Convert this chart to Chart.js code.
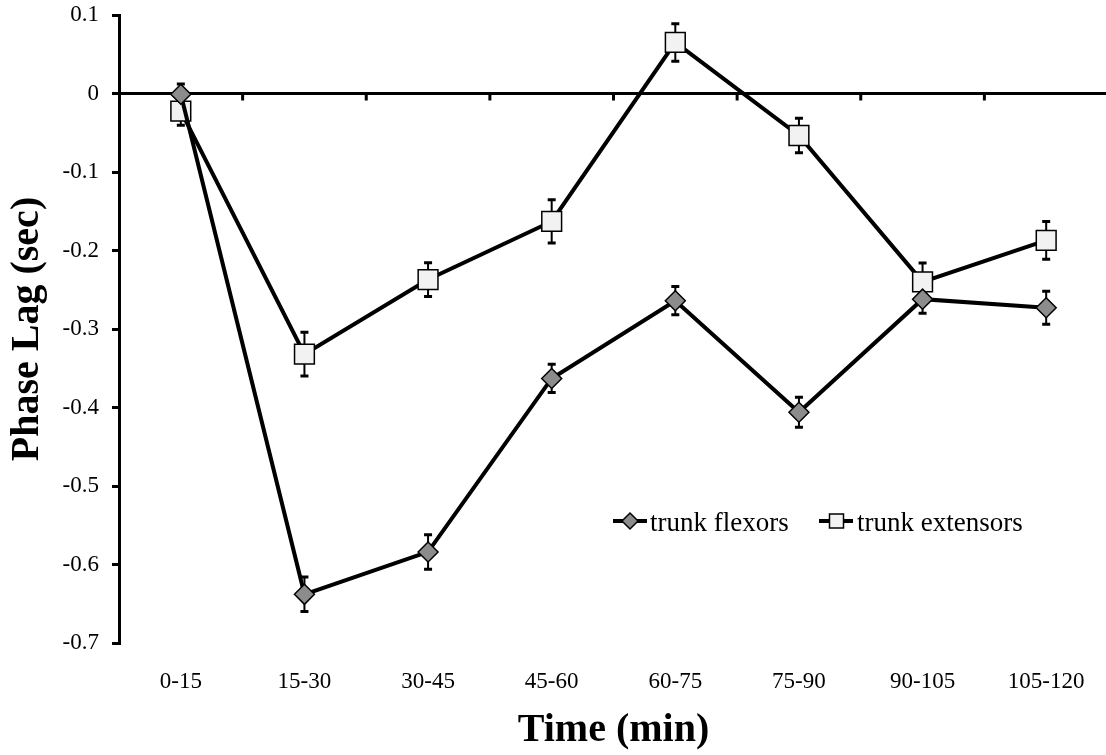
<!DOCTYPE html>
<html lang="en">
<head>
  <meta charset="UTF-8" />
  <title>Phase Lag</title>
  <script src="https://cdn.jsdelivr.net/npm/chart.js"></script>
  <style>
    body {
      margin: 0;
      background: #fff;
      overflow: hidden;
    }
  </style>
</head>
<body>
  <canvas id="lagChart" width="1110" height="755"></canvas>

  <script>
    const periods = ['0-15', '15-30', '30-45', '45-60', '60-75', '75-90', '90-105', '105-120'];
    const flexors = [-0.001, -0.638, -0.584, -0.363, -0.264, -0.406, -0.262, -0.273];
    const flexorsErr = [0.013, 0.022, 0.022, 0.018, 0.018, 0.019, 0.018, 0.021];
    const extensors = [-0.0225, -0.332, -0.237, -0.163, 0.065, -0.0535, -0.240, -0.187];
    const extensorsErr = [0.018, 0.028, 0.0215, 0.0275, 0.024, 0.022, 0.024, 0.024];

    const serif = '"Liberation Serif", "Times New Roman", serif';

    // little down ticks on the zero line between categories
    const zeroTicks = {
      id: 'zeroTicks',
      beforeDatasetsDraw(chart) {
        const { ctx, scales: { x, y } } = chart;
        const y0 = y.getPixelForValue(0);
        ctx.save();
        ctx.strokeStyle = '#000';
        ctx.lineWidth = 3;
        for (let i = 0; i < periods.length; i++) {
          const px = (x.getPixelForValue(i) + x.getPixelForValue(i + 1)) / 2;
          ctx.beginPath();
          ctx.moveTo(px, y0);
          ctx.lineTo(px, y0 + 7);
          ctx.stroke();
        }
        ctx.restore();
      }
    };

    const errorBars = {
      id: 'errorBars',
      beforeDatasetsDraw(chart) {
        const { ctx, scales: { x, y } } = chart;
        const sets = [[flexors, flexorsErr], [extensors, extensorsErr]];
        ctx.save();
        ctx.strokeStyle = '#000';
        sets.forEach(([vals, errs]) => {
          vals.forEach((v, i) => {
            const px = x.getPixelForValue(i);
            const top = y.getPixelForValue(v + errs[i]);
            const bot = y.getPixelForValue(v - errs[i]);
            ctx.lineWidth = 2;
            ctx.beginPath();
            ctx.moveTo(px, top);
            ctx.lineTo(px, bot);
            ctx.stroke();
            ctx.lineWidth = 3;
            ctx.beginPath();
            ctx.moveTo(px - 4, top);
            ctx.lineTo(px + 4, top);
            ctx.moveTo(px - 4, bot);
            ctx.lineTo(px + 4, bot);
            ctx.stroke();
          });
        });
        ctx.restore();
      }
    };

    // legend drawn by hand: line + marker + label
    const lineLegend = {
      id: 'lineLegend',
      afterDraw(chart) {
        const ctx = chart.ctx;
        const ly = 521;
        ctx.save();
        ctx.font = '27px ' + serif;
        ctx.textBaseline = 'middle';
        ctx.fillStyle = '#000';
        ctx.strokeStyle = '#000';

        ctx.lineWidth = 4;
        ctx.beginPath();
        ctx.moveTo(613, ly); ctx.lineTo(647, ly);
        ctx.moveTo(819, ly); ctx.lineTo(853, ly);
        ctx.stroke();

        ctx.lineWidth = 1.5;
        ctx.beginPath();
        ctx.moveTo(630, ly - 8); ctx.lineTo(638, ly); ctx.lineTo(630, ly + 8); ctx.lineTo(622, ly);
        ctx.closePath();
        ctx.fillStyle = '#8c8c8c';
        ctx.fill();
        ctx.stroke();

        ctx.fillStyle = '#f2f2f2';
        ctx.fillRect(829.5, ly - 7, 14, 14);
        ctx.strokeRect(829.5, ly - 7, 14, 14);

        ctx.fillStyle = '#000';
        ctx.fillText('trunk flexors', 650, ly + 3);
        ctx.fillText('trunk extensors', 857, ly + 3);
        ctx.restore();
      }
    };

    new Chart(document.getElementById('lagChart').getContext('2d'), {
      type: 'line',
      data: {
        labels: periods,
        datasets: [
          {
            label: 'trunk flexors',
            data: flexors,
            borderColor: '#000',
            borderWidth: 4,
            pointStyle: 'rectRot',
            pointRadius: 10,
            pointBackgroundColor: '#8c8c8c',
            pointBorderColor: '#000',
            pointBorderWidth: 1.5,
            tension: 0,
            clip: false
          },
          {
            label: 'trunk extensors',
            data: extensors,
            borderColor: '#000',
            borderWidth: 4,
            pointStyle: 'rect',
            pointRadius: 14,
            pointBackgroundColor: '#f2f2f2',
            pointBorderColor: '#000',
            pointBorderWidth: 1.5,
            tension: 0,
            clip: false
          }
        ]
      },
      options: {
        responsive: false,
        animation: false,
        layout: { autoPadding: false, padding: { top: 15, right: 2, left: 0, bottom: 0 } },
        plugins: {
          legend: { display: false },
          tooltip: { enabled: false }
        },
        scales: {
          x: {
            offset: true,
            grid: { display: false },
            border: { display: false },
            ticks: { color: '#000', font: { family: serif, size: 23 }, padding: 17, maxRotation: 0 },
            title: {
              display: true,
              text: 'Time (min)',
              color: '#000',
              font: { family: serif, size: 40, weight: 'bold' },
              padding: { top: 0, bottom: 0 }
            },
            afterFit(scale) {
              scale.height = 112;
              scale.paddingLeft = 0;
              scale.paddingRight = 0;
            }
          },
          y: {
            min: -0.7,
            max: 0.1,
            border: { display: true, color: '#000', width: 3 },
            grid: {
              drawOnChartArea: true,
              drawTicks: true,
              tickLength: 7,
              tickColor: '#000',
              tickWidth: 3,
              color: ctx => (ctx.tick && Math.abs(ctx.tick.value) < 1e-9) ? '#000' : 'rgba(0,0,0,0)',
              lineWidth: 3
            },
            ticks: {
              stepSize: 0.1,
              color: '#000',
              padding: 13,
              font: { family: serif, size: 23 },
              callback: v => String(Math.round(v * 10) / 10)
            },
            title: {
              display: true,
              text: 'Phase Lag (sec)',
              color: '#000',
              font: { family: serif, size: 40, weight: 'bold' },
              padding: { top: 4, bottom: 0 }
            },
            afterFit(scale) {
              scale.width = 119;
              scale.paddingTop = 0;
              scale.paddingBottom = 0;
            }
          }
        }
      },
      plugins: [zeroTicks, errorBars, lineLegend]
    });
  </script>
</body>
</html>
